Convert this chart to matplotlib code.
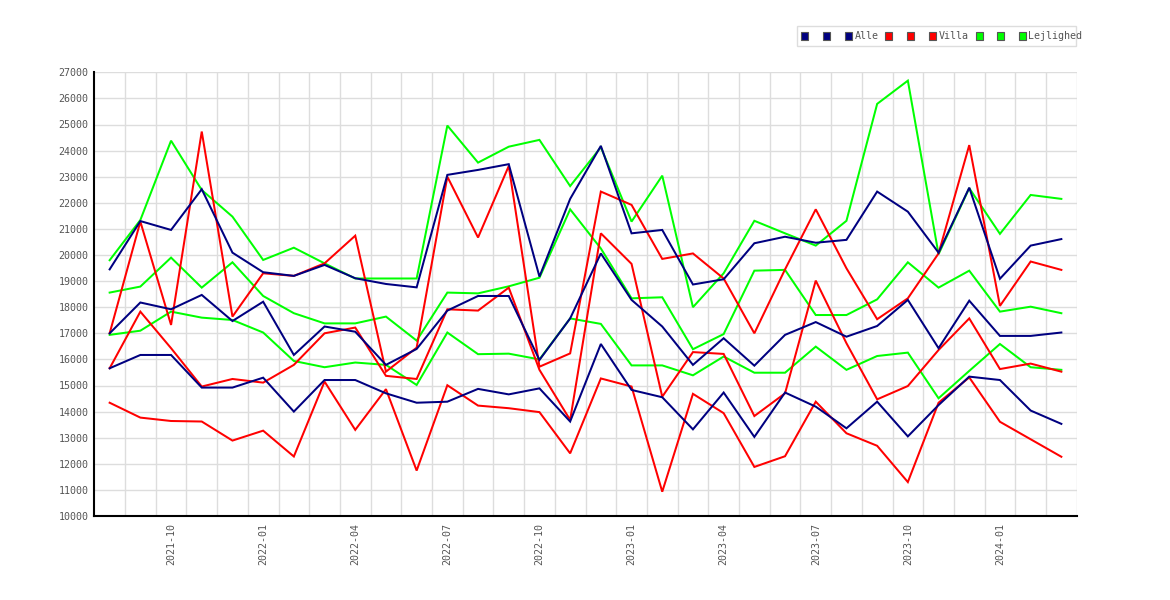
import matplotlib
matplotlib.use("Agg")
import matplotlib.pyplot as plt
from matplotlib.patches import Rectangle
from matplotlib.ticker import FixedLocator, MultipleLocator, FuncFormatter

months = ["2021-08", "2021-09", "2021-10", "2021-11", "2021-12",
          "2022-01", "2022-02", "2022-03", "2022-04", "2022-05", "2022-06",
          "2022-07", "2022-08", "2022-09", "2022-10", "2022-11", "2022-12",
          "2023-01", "2023-02", "2023-03", "2023-04", "2023-05", "2023-06",
          "2023-07", "2023-08", "2023-09", "2023-10", "2023-11", "2023-12",
          "2024-01", "2024-02", "2024-03"]

alle_high = [19450, 21300, 20960, 22520, 20090, 19340, 19200, 19620, 19110, 18890, 18760,
             23070, 23260, 23480, 19170, 22150, 24180, 20830, 20960, 18870, 19070,
             20450, 20700, 20470, 20580, 22430, 21660, 20090, 22580, 19090, 20360, 20610]
alle_mid = [17000, 18180, 17920, 18470, 17470, 18210, 16170, 17260, 17060, 15790, 16400,
            17870, 18430, 18430, 15980, 17570, 20060, 18280, 17260, 15790, 16810,
            15760, 16940, 17430, 16870, 17280, 18280, 16430, 18250, 16900, 16900, 17030]
alle_low = [15660, 16170, 16170, 14920, 14920, 15300, 14000, 15210, 15210, 14700, 14340,
            14380, 14870, 14660, 14890, 13620, 16590, 14830, 14550, 13320, 14730,
            13030, 14730, 14190, 13360, 14380, 13050, 14250, 15340, 15210, 14040, 13530]

villa_high = [17000, 21280, 17320, 24730, 17640, 19300, 19200, 19680, 20740, 15530, 16450,
              23000, 20670, 23410, 15720, 16230, 22430, 21920, 19850, 20060, 19100,
              17000, 19450, 21750, 19490, 17540, 18340, 20060, 24210, 18050, 19750, 19430]
villa_mid = [15660, 17830, 16430, 14960, 15250, 15110, 15790, 17000, 17220, 15370, 15250,
             17920, 17870, 18750, 15600, 13680, 20830, 19660, 14570, 16280, 16210,
             13830, 14700, 19020, 16620, 14470, 14980, 16360, 17570, 15630, 15840, 15530]
villa_low = [14340, 13770, 13640, 13620, 12890, 13270, 12280, 15150, 13300, 14860, 11740,
             15010, 14230, 14130, 13980, 12400, 15270, 14960, 10930, 14680, 13940,
             11880, 12290, 14380, 13170, 12690, 11300, 14340, 15310, 13610, 12940, 12270]

lejl_high = [19800, 21340, 24380, 22490, 21470, 19810, 20280, 19680, 19100, 19100, 19100,
             24960, 23540, 24150, 24410, 22640, 24130, 21280, 23040, 18000, 19300,
             21310, 20830, 20360, 21310, 25790, 26680, 20030, 22560, 20810, 22300, 22150]
lejl_mid = [18560, 18790, 19900, 18750, 19720, 18430, 17770, 17380, 17380, 17640, 16720,
            18560, 18530, 18800, 19130, 21750, 20250, 18340, 18380, 16390, 16970,
            19400, 19430, 17700, 17700, 18300, 19720, 18750, 19400, 17830, 18020, 17770]
lejl_low = [16940, 17100, 17830, 17600, 17510, 17030, 15940, 15700, 15880, 15790, 15020,
            17030, 16200, 16220, 16000, 17570, 17360, 15770, 15770, 15390, 16110,
            15490, 15490, 16490, 15600, 16130, 16260, 14510, 15560, 16590, 15700, 15600]

groups = ["Alle", "Villa", "Lejlighed"]
colors = ["#000080", "#ff0000", "#00ff00"]
series = [[alle_high, alle_mid, alle_low],
          [villa_high, villa_mid, villa_low],
          [lejl_high, lejl_mid, lejl_low]]

W, H = 1170, 600
fig = plt.figure(figsize=(W / 100, H / 100), dpi=100)
ax = fig.add_axes([94.3 / W, 1 - 516 / H, (1076.7 - 94.3) / W, (516 - 72.3) / H])

x = list(range(len(months)))
for gi in [2, 1, 0]:
    for s in series[gi]:
        ax.plot(x, s, color=colors[gi], linewidth=1.45, solid_joinstyle="miter", zorder=3)

ax.set_xlim(-0.5, len(months) - 0.5)
ax.set_ylim(10000, 27000)
ax.yaxis.set_major_locator(MultipleLocator(1000))
ax.yaxis.set_major_formatter(FuncFormatter(lambda v, p: f"{int(v)}"))

tick_idx = [i for i, m in enumerate(months) if m[-2:] in ("01", "04", "07", "10")]
ax.set_xticks(tick_idx)
ax.set_xticklabels([months[i] for i in tick_idx], rotation=90)
ax.xaxis.set_minor_locator(FixedLocator([i + 0.5 for i in range(len(months))]))

ax.grid(False)
ax.grid(True, which="minor", axis="x", color="#dddddd", linewidth=1.0, zorder=0)
ax.grid(True, which="major", axis="y", color="#dddddd", linewidth=1.0, zorder=0)
ax.set_axisbelow(True)

ax.tick_params(axis="both", which="both", length=0)
ax.tick_params(axis="y", pad=4.3, labelsize=7.2, labelcolor="#555555")
ax.tick_params(axis="x", pad=4.8, labelsize=7.2, labelcolor="#555555")
for lab in ax.get_xticklabels() + ax.get_yticklabels():
    lab.set_family("DejaVu Sans Mono")

for side in ["top", "right"]:
    ax.spines[side].set_visible(False)
for side in ["left", "bottom"]:
    ax.spines[side].set_color("black")
    ax.spines[side].set_linewidth(1.5)

# legend drawn in figure pixel coordinates
def fx(px):
    return px / W

def fy(py):
    return 1 - py / H

fig.add_artist(Rectangle((fx(797), fy(46)), fx(1076) - fx(797), (46 - 25.7) / H,
                         transform=fig.transFigure, facecolor="white",
                         edgecolor="#dddddd", linewidth=1.0))
square_x = [[804, 826.5, 848.5], [888.5, 910.5, 932.5], [979, 1000.5, 1022.5]]
text_x = [855, 939, 1028]
for gi, g in enumerate(groups):
    for cx in square_x[gi]:
        fig.add_artist(Rectangle((fx(cx - 3.5), fy(36 + 3.5)), 7 / W, 7 / H,
                                 transform=fig.transFigure, facecolor=colors[gi],
                                 edgecolor="#555555", linewidth=0.8))
    fig.text(fx(text_x[gi]), fy(36), g, ha="left", va="center", fontsize=7.2,
             color="#555555", family="DejaVu Sans Mono")

fig.savefig("out.png", dpi=100)
